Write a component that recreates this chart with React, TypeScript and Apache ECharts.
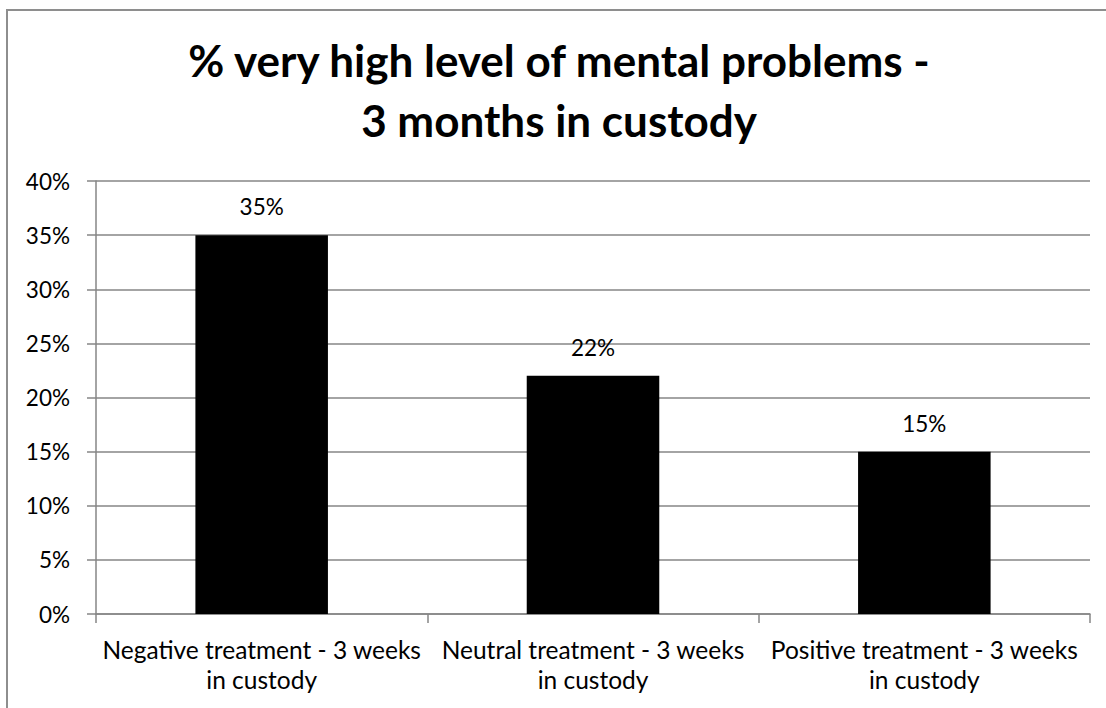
import React, { useEffect, useRef } from "react";
import * as echarts from "echarts";

const titleLines = ["% very high level of mental problems -", "3 months in custody"];
const categories = [
  "Negative treatment - 3 weeks\nin custody",
  "Neutral treatment - 3 weeks\nin custody",
  "Positive treatment - 3 weeks\nin custody",
];
const values = [35, 22, 15];
const yMin = 0;
const yMax = 40;
const yInterval = 5;

const FONT = "Lato, 'Open Sans', sans-serif";
const GRAY = "#868686";

export default function App() {
  const ref = useRef<HTMLDivElement>(null);
  useEffect(() => {
    if (!ref.current) return;
    const chart = echarts.init(ref.current, undefined, { renderer: "svg" });
    chart.setOption({
      animation: false,
      backgroundColor: "#ffffff",
      textStyle: { fontFamily: FONT },
      title: {
        text: titleLines.join("\n"),
        left: 554,
        top: 25,
        textAlign: "center",
        textStyle: {
          fontFamily: FONT,
          fontSize: 44,
          fontWeight: "bold",
          color: "#000",
          lineHeight: 60,
        },
      },
      graphic: [
        {
          type: "rect",
          shape: { x: 7, y: 10, width: 1300, height: 900 },
          style: { fill: "none", stroke: "#8e8e8e", lineWidth: 2 },
          silent: true,
          z: 100,
        },
      ],
      grid: { left: 96, right: 16, top: 181, bottom: 94, containLabel: false },
      xAxis: {
        type: "category",
        data: categories,
        boundaryGap: true,
        axisLine: { show: true, lineStyle: { color: GRAY, width: 1.5 } },
        axisTick: { show: true, length: 9, alignWithLabel: false, lineStyle: { color: GRAY, width: 1.5 } },
        axisLabel: {
          interval: 0,
          margin: 20,
          fontFamily: FONT,
          fontSize: 24.5,
          lineHeight: 30,
          color: "#000",
          align: "center",
        },
      },
      yAxis: {
        type: "value",
        min: yMin,
        max: yMax,
        interval: yInterval,
        axisLine: { show: true, lineStyle: { color: GRAY, width: 1.5 } },
        axisTick: { show: true, length: 9, lineStyle: { color: GRAY, width: 1.5 } },
        splitLine: { show: true, lineStyle: { color: GRAY, width: 1.5 } },
        axisLabel: {
          margin: 26,
          fontFamily: FONT,
          fontSize: 22.5,
          color: "#000",
          formatter: (v: number) => `${v}%`,
        },
      },
      series: [
        {
          type: "bar",
          data: values,
          barWidth: "40%",
          itemStyle: { color: "#000000" },
          label: {
            show: true,
            position: "top",
            distance: 17,
            fontFamily: FONT,
            fontSize: 22.5,
            color: "#000",
            formatter: (p: any) => `${p.value}%`,
          },
        },
      ],
    });
    return () => chart.dispose();
  }, []);
  return (
    <div
      ref={ref}
      style={{ position: "fixed", left: 0, top: 0, width: 1106, height: 708, background: "#fff" }}
    />
  );
}
